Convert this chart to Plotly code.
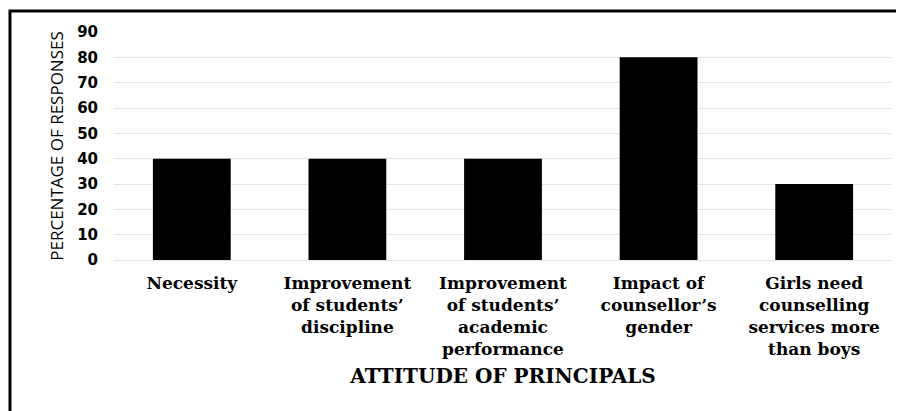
import plotly.graph_objects as go

# data
categories = [
    "Necessity",
    "Improvement<br>of students’<br>discipline",
    "Improvement<br>of students’<br>academic<br>performance",
    "Impact of<br>counsellor’s<br>gender",
    "Girls need<br>counselling<br>services more<br>than boys",
]
percentages = [40, 40, 40, 80, 30]
y_ticks = [0, 10, 20, 30, 40, 50, 60, 70, 80, 90]

fig = go.Figure()
fig.add_trace(
    go.Bar(
        x=categories,
        y=percentages,
        marker=dict(color="#000000", line=dict(width=0)),
        width=0.5,
        showlegend=False,
    )
)

# the page body adds 8px around the figure, so the figure is 8px smaller
fig.update_layout(
    width=896,
    height=403,
    margin={"l": 106, "r": 12, "t": 24, "b": 151},
    paper_bgcolor="white",
    plot_bgcolor="white",
    font=dict(family="DejaVu Serif", color="#000000"),
)

fig.update_xaxes(
    tickfont=dict(family="DejaVu Serif", size=17, weight="bold", color="#000000"),
    title=dict(
        text="ATTITUDE OF PRINCIPALS",
        font=dict(family="DejaVu Serif", size=20, weight="bold", color="#000000"),
        standoff=10,
    ),
    showline=False,
    ticks="",
    tickangle=0,
    ticklabelstandoff=11,
    automargin=False,
)

fig.update_yaxes(
    range=[0, 90],
    tickvals=y_ticks,
    tickfont=dict(family="DejaVu Sans", size=15, weight="bold", color="#000000"),
    title=dict(
        text="PERCENTAGE OF RESPONSES",
        font=dict(family="Open Sans", size=17, color="#000000"),
        standoff=9,
    ),
    showgrid=True,
    gridcolor="#e3e3e3",
    gridwidth=1,
    zeroline=True,
    zerolinecolor="#e3e3e3",
    zerolinewidth=1,
    ticklabelstandoff=15,
    automargin=False,
)

# outer frame around the chart (right and bottom edges fall outside the image)
fig.add_shape(
    type="rect",
    xref="paper",
    yref="paper",
    x0=-0.1337,
    x1=1.03,
    y0=-0.7,
    y1=1.092,
    line=dict(color="#000000", width=3),
    fillcolor="rgba(0,0,0,0)",
    layer="above",
)

fig.write_html("out.html")
